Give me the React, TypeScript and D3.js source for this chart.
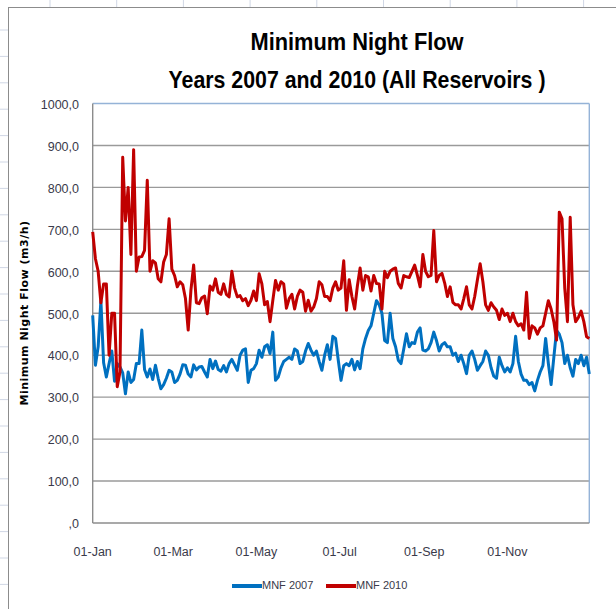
import * as d3 from 'd3';

// Daily minimum night flow (m3/h), read every 2nd day starting 01-Jan
const startDate = new Date(2007, 0, 1);
const stepDays = 2;

const mnf2007 = [
  495, 376, 420, 530, 382, 348, 380, 410, 338, 380, 372, 358, 308, 360, 335, 342, 380, 380, 460, 366,
  348, 367, 342, 376, 345, 320, 330, 345, 364, 360, 335, 340, 355, 377, 376, 355, 348, 377, 365, 372,
  373, 360, 348, 390, 368, 386, 366, 362, 375, 360, 380, 390, 377, 364, 400, 412, 415, 335, 364, 368,
  380, 412,
  395, 420, 425, 404, 455, 340, 348, 370, 385, 390, 395, 390, 415, 410, 380, 385, 410, 428, 412, 400,
  410, 385, 364, 400, 425, 390, 445, 440, 388, 340, 375, 380, 375, 390, 365, 385, 368, 415, 440, 459,
  470, 500, 530, 520, 500, 435, 430, 500, 440, 420, 388, 380, 415, 451, 420, 430, 428, 455, 465, 412,
  410, 415, 430, 455, 435, 410, 425, 430, 420, 420, 400, 405, 385, 400, 380, 356, 400, 410, 390, 364,
  375, 385, 410, 400, 370, 350, 345, 395, 375, 360, 370, 360, 380, 445, 385, 355, 340, 340, 330, 335,
  315, 340, 360, 375, 440, 380, 330, 395, 459, 450, 430, 380, 400, 370, 350, 390, 380, 400, 375, 395,
  355,
];

const mnf2010 = [
  694, 630, 600, 525, 570, 570, 400, 500, 500, 325, 360, 872, 720, 800, 640, 890, 600, 634, 635, 650,
  817, 600, 625, 620, 582, 575, 622, 640, 725, 605, 590, 563, 575, 568, 535, 460, 555, 615, 525, 523,
  537, 541, 499, 565, 555, 582, 550, 545, 570, 545, 539, 600, 560, 539, 542, 530, 535, 518, 531, 553,
  530, 594,
  570, 520, 528, 480, 530, 578, 555, 575, 570, 512, 535, 545, 510, 540, 555, 550, 505, 531, 505, 515,
  535, 575, 568, 540, 540, 530, 560, 575, 555, 560, 625, 507, 580, 540, 510, 565, 608, 555, 590, 587,
  553, 590, 571, 570, 510, 600, 585, 600, 605, 608, 571, 560, 590, 587, 585, 600, 615, 590, 563, 640,
  600, 587, 590, 697, 575, 590, 595, 572, 540, 563, 526, 520, 520, 510, 535, 563, 520, 510, 540, 580,
  618, 575, 520, 507, 525, 515, 507, 485, 510, 495, 500, 480, 500, 480, 470, 475, 460, 550, 440, 470,
  465, 450, 465, 470, 500, 530, 510, 480, 436, 741, 725, 560, 480, 729, 520, 480, 490, 505, 480, 444,
  440,
];

const yTicks = [0, 100, 200, 300, 400, 500, 600, 700, 800, 900, 1000];
const seriesNames = ['MNF 2007', 'MNF 2010'];
const seriesColors = ['#0070c0', '#c00000'];
const titleLines = ['Minimum Night Flow', 'Years 2007 and 2010 (All Reservoirs )'];
const titleWidths = [213, 377];
const yLabel = 'Minimum Night Flow  (m3/h)';

const sans = "'Liberation Sans', Arial, sans-serif";

export default function App() {
  const width = 616;
  const height = 609;
  const plot = { left: 92.7, right: 589.3, top: 103.5, bottom: 523 };

  const endDate = d3.timeDay.offset(startDate, 364);
  const x = d3.scaleTime().domain([startDate, endDate]).range([plot.left, plot.right]);
  const y = d3.scaleLinear().domain([0, 1000]).range([plot.bottom, plot.top]);

  const line = d3.line<number>()
    .x((_, i) => x(d3.timeDay.offset(startDate, i * stepDays)))
    .y(d => y(d));

  const xTicks = d3.timeMonth.every(2)!.range(startDate, d3.timeDay.offset(endDate, 1));
  const fmtX = d3.timeFormat('%d-%b');
  const fmtY = (v: number) => (v === 0 ? ',0' : v.toFixed(1).replace('.', ','));

  // spreadsheet grid behind the chart
  const cols = d3.range(50, width, 66.7);
  const rows = d3.range(30, height, 26.4);

  return (
    <svg width={width} height={height} style={{ position: 'absolute', left: 0, top: 0, background: '#fff' }}>
      {/* sheet gridlines */}
      {cols.map((cx, i) => (
        <line key={'c' + i} x1={cx} x2={cx} y1={0} y2={7} stroke="#d0d7e5" />
      ))}
      {rows.map((ry, i) => (
        <line key={'r' + i} x1={0} x2={8} y1={ry} y2={ry} stroke="#d0d7e5" />
      ))}

      {/* chart area */}
      <rect x={8.5} y={7.5} width={width} height={height} fill="#fff" stroke="#8c8c8c" />

      {/* title, squeezed to the narrow Calibri widths */}
      {titleLines.map((t, i) => (
        <text
          key={i}
          x={357}
          y={50 + i * 38}
          textAnchor="middle"
          fontFamily={sans}
          fontWeight="bold"
          fontSize={24}
          textLength={titleWidths[i]}
          lengthAdjust="spacingAndGlyphs"
          fill="#000"
        >
          {t}
        </text>
      ))}

      {/* horizontal gridlines */}
      {yTicks.map(t => (
        <g key={t}>
          {t > 0 && t < 1000 && (
            <line x1={plot.left} x2={plot.right} y1={y(t)} y2={y(t)} stroke="#9a9a9a" strokeWidth={1.4} />
          )}
          <text
            x={79}
            y={y(t) + 2}
            textAnchor="end"
            dominantBaseline="middle"
            fontFamily={sans}
            fontSize={12.5}
            fill="#3a3a4a"
          >
            {fmtY(t)}
          </text>
        </g>
      ))}

      {/* plot border */}
      <line x1={plot.left} x2={plot.right} y1={plot.top} y2={plot.top} stroke="#95b3d7" strokeWidth={1.4} />
      <line x1={plot.right} x2={plot.right} y1={plot.top} y2={plot.bottom} stroke="#95b3d7" strokeWidth={1.4} />
      <line x1={plot.left} x2={plot.left} y1={plot.top} y2={plot.bottom} stroke="#8c8c8c" strokeWidth={1.4} />
      <line x1={plot.left} x2={plot.right} y1={plot.bottom} y2={plot.bottom} stroke="#8c8c8c" strokeWidth={1.4} />

      {/* x tick labels */}
      {xTicks.map((d, i) => (
        <text
          key={i}
          x={x(d)}
          y={553}
          textAnchor="middle"
          dominantBaseline="middle"
          fontFamily={sans}
          fontSize={12.5}
          fill="#3a3a4a"
        >
          {fmtX(d)}
        </text>
      ))}

      {/* y axis title */}
      <text
        transform={`translate(25,${313}) rotate(-90)`}
        textAnchor="middle"
        dominantBaseline="middle"
        fontFamily="'DejaVu Sans', Verdana, sans-serif"
        fontWeight="bold"
        fontSize={11}
        letterSpacing={0.5}
        fill="#000"
      >
        {yLabel}
      </text>

      {/* series */}
      {[mnf2007, mnf2010].map((s, i) => (
        <path
          key={i}
          d={line(s) ?? ''}
          fill="none"
          stroke={seriesColors[i]}
          strokeWidth={3}
          strokeLinejoin="round"
        />
      ))}

      {/* legend */}
      {seriesNames.map((n, i) => {
        const lx = 232 + i * 94;
        return (
          <g key={n}>
            <line x1={lx} x2={lx + 30} y1={586} y2={586} stroke={seriesColors[i]} strokeWidth={4} />
            <text
              x={lx + 30}
              y={586}
              dominantBaseline="middle"
              fontFamily={sans}
              fontSize={11}
              fill="#3a3a4a"
            >
              {n}
            </text>
          </g>
        );
      })}
    </svg>
  );
}
